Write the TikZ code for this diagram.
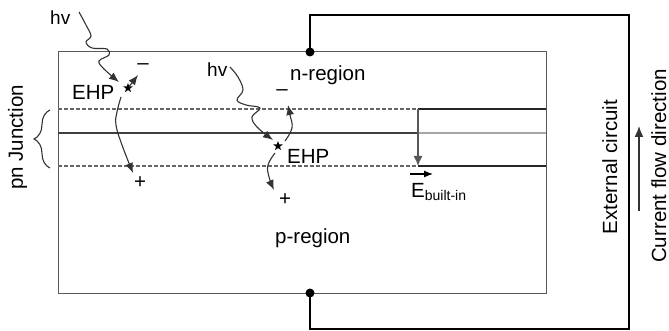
\documentclass[tikz,border=0pt]{standalone}
\usepackage{fontspec}
\setmainfont{Liberation Sans}
\usetikzlibrary{arrows.meta,shapes.geometric,decorations.pathreplacing}
\begin{document}
\begin{tikzpicture}[x=1pt,y=-1pt,
  lbl/.style={inner sep=0pt,font=\fontsize{20.5}{24}\selectfont},
  boxline/.style={draw=black!65,line width=1pt},
  dashline/.style={draw=black!60,line width=1.2pt,dash pattern=on 4pt off 2pt},
  thickline/.style={draw=black!85,line width=2pt},
  circuit/.style={draw=black,line width=2.4pt},
  carrier/.style={draw=black!80,line width=1.1pt,-{Latex[length=10pt,width=8pt]}},
  ehpstar/.style={star,star points=5,star point ratio=2.4,fill=black,inner sep=0pt,minimum size=10pt},
  dot/.style={circle,fill=black,inner sep=0pt,minimum size=9pt}]
\useasboundingbox (0,0) rectangle (669,331);
% device box
\draw[boxline] (58,52) rectangle (546,293);
% junction layers
\draw[dashline] (58,109) -- (418,109);
\draw[thickline] (418,109) -- (546,109);
\draw[draw=black!75,line width=1.2pt] (58,133) -- (418,133);
\draw[draw=black!35,line width=1.2pt] (418,133) -- (546,133);
\draw[dashline] (58,166) -- (418,166);
\draw[thickline] (418,166) -- (546,166);
% built-in field
\coordinate (et) at (418,109);
\coordinate (eb) at (418,166);
\draw[draw=black!65,line width=1.3pt,-{Latex[length=10pt,width=9pt]}] (et) -- (eb);
\node[lbl,anchor=base west] (ebi) at (411,197) {E\raisebox{-0.3ex}{\fontsize{14}{16}\selectfont built-in}};
\coordinate (ea1) at (410,174);
\coordinate (ea2) at (433,174);
\draw[draw=black,line width=1.2pt,-{Latex[length=9pt,width=7pt]}] (ea1) -- (ea2);
% external circuit
\node[dot] (topc) at (310,52) {};
\node[dot] (botc) at (310,293) {};
\draw[circuit] (topc.center) -- (310,15) -- (629,15) -- (629,329) -- (310,329) -- (botc.center);
\node[lbl,rotate=90,anchor=base] (ext) at (617,167) {External circuit};
\node[lbl,rotate=90,anchor=base] (cfd) at (666,166) {Current flow direction};
\coordinate (cf1) at (639,211);
\coordinate (cf2) at (639,126);
\draw[draw=black!80,line width=1.6pt,-{Latex[length=11pt,width=9pt]}] (cf1) -- (cf2);
% region labels
\node[lbl,anchor=base west] (nreg) at (290,81) {n-region};
\node[lbl,anchor=base west] (preg) at (275,243) {p-region};
% pn junction
\node[lbl,rotate=90,anchor=base] (pnj) at (23,137.5) {pn Junction};
\coordinate (br1) at (50,168);
\coordinate (br2) at (50,110);
\draw[draw=black!80,line width=1.1pt,decorate,decoration={brace,amplitude=16pt,aspect=0.5}] (br1) -- (br2);
% first EHP
\node[lbl,anchor=base west,font=\fontsize{19}{22}\selectfont] (hv1) at (50,25) {hv};
\node[ehpstar] (s1) at (128,88) {};
\node[lbl,anchor=base west] (ehp1) at (72,100) {EHP};
\node[lbl] (m1) at (143,67) {–};
\node[lbl] (p1) at (140,183) {+};
\coordinate (w1s) at (79,12);
\coordinate (w1e) at (119,82);
\draw[carrier] plot[smooth,tension=0.6] coordinates {(w1s) (86,25) (91,36) (86,42) (92,48) (107,49) (109,55) (99,61) (104,69) (w1e)};
\coordinate (e1e) at (138,75);
\draw[carrier] (s1) -- (e1e);
\coordinate (h1s) at (121,97);
\coordinate (h1e) at (133,173);
\draw[carrier] plot[smooth,tension=0.7] coordinates {(h1s) (117,112) (116,125) (122,145) (h1e)};
% second EHP
\node[lbl,anchor=base west,font=\fontsize{19}{22}\selectfont] (hv2) at (207,77) {hv};
\node[ehpstar] (s2) at (278,146) {};
\node[lbl,anchor=base west] (ehp2) at (287,164) {EHP};
\node[lbl] (m2) at (282,93) {–};
\node[lbl] (p2) at (285,200) {+};
\coordinate (w2s) at (230,67);
\coordinate (w2e) at (273,140);
\draw[carrier] plot[smooth,tension=0.6] coordinates {(w2s) (238,77) (243,90) (237,100) (246,105) (260,108) (252,117) (257,127) (w2e)};
\coordinate (e2s) at (285,141);
\coordinate (e2e) at (288,105);
\draw[carrier] plot[smooth,tension=0.7] coordinates {(e2s) (292,128) (290,115) (e2e)};
\coordinate (h2s) at (275,153);
\coordinate (h2e) at (274,190);
\draw[carrier] plot[smooth,tension=0.7] coordinates {(h2s) (268,165) (269,177) (h2e)};
\end{tikzpicture}
\end{document}
